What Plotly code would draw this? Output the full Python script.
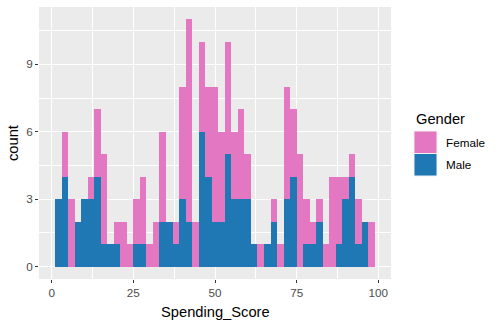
import plotly.graph_objects as go

# Histogram of Spending_Score, binwidth 2 starting at 1 (49 bins: 1-3, 3-5, ..., 97-99)
bin_start = 1
bin_width = 2
male_counts = [3, 4, 0, 2, 3, 3, 4, 1, 1, 1, 0, 0, 1, 1, 0, 0, 2, 2, 1, 3,
               2, 0, 6, 4, 2, 2, 5, 3, 3, 3, 1, 0, 1, 2, 0, 3, 4, 0, 1, 1,
               2, 0, 0, 1, 3, 4, 1, 2, 0]
female_counts = [0, 2, 3, 0, 0, 1, 3, 4, 0, 1, 2, 1, 2, 3, 1, 2, 4, 0, 1, 5,
                 9, 2, 4, 4, 6, 4, 5, 3, 4, 2, 0, 1, 0, 1, 1, 5, 3, 5, 2, 1,
                 1, 1, 4, 3, 1, 1, 2, 0, 2]
groups = ["Female", "Male"]
group_colors = {"Female": "#E377C2", "Male": "#1F77B4"}
x_ticks = [0, 25, 50, 75, 100]
y_ticks = [0, 3, 6, 9]

centers = [bin_start + bin_width * (i + 0.5) for i in range(len(male_counts))]

fig = go.Figure()
# Male stacked at the bottom, Female on top
fig.add_trace(go.Bar(x=centers, y=male_counts, width=bin_width, name="Male",
                     marker=dict(color=group_colors["Male"], line=dict(width=0)),
                     showlegend=False))
fig.add_trace(go.Bar(x=centers, y=female_counts, width=bin_width, name="Female",
                     marker=dict(color=group_colors["Female"], line=dict(width=0)),
                     showlegend=False))

# Panel geometry in pixels
W, H = 499, 326
L, R, T, B = 39, 391, 7, 279
pw, ph = R - L, B - T

def px_x(p):
    return (p - L) / pw

def px_y(p):
    return (B - p) / ph

totals = [m + f for m, f in zip(male_counts, female_counts)]
ymax = max(totals)
x_lo, x_hi = bin_start, bin_start + bin_width * len(male_counts)
xpad = 0.05 * (x_hi - x_lo)

tick_font = dict(family="Liberation Sans, Arial, sans-serif", size=11.7, color="#4D4D4D")

fig.update_layout(
    width=W, height=H,
    margin=dict(l=L, r=W - R, t=T, b=H - B),
    paper_bgcolor="white",
    plot_bgcolor="#EBEBEB",
    barmode="stack",
    bargap=0,
    xaxis=dict(
        range=[x_lo - xpad, x_hi + xpad],
        tickvals=x_ticks,
        ticks="outside", ticklen=3, tickwidth=1, tickcolor="#333333",
        tickfont=tick_font,
        showgrid=True, gridcolor="white", gridwidth=1.1,
        minor=dict(tickvals=[12.5, 37.5, 62.5, 87.5], showgrid=True,
                   gridcolor="white", gridwidth=0.55, ticks=""),
        zeroline=False, showline=False,
    ),
    yaxis=dict(
        range=[-0.05 * ymax, 1.05 * ymax],
        tickvals=y_ticks,
        ticks="outside", ticklen=3, tickwidth=1, tickcolor="#333333",
        tickfont=tick_font,
        showgrid=True, gridcolor="white", gridwidth=1.1,
        minor=dict(tickvals=[1.5, 4.5, 7.5, 10.5], showgrid=True,
                   gridcolor="white", gridwidth=0.55, ticks=""),
        zeroline=False, showline=False,
    ),
    font=dict(family="Liberation Sans, Arial, sans-serif"),
)

title_font = dict(family="Liberation Sans, Arial, sans-serif", size=14.7, color="black")

annotations = [
    dict(text="Spending_Score", x=0.5, y=px_y(312), xref="paper", yref="paper",
         showarrow=False, font=title_font, xanchor="center", yanchor="middle"),
    dict(text="count", x=px_x(13), y=px_y(143), xref="paper", yref="paper",
         showarrow=False, font=title_font, textangle=-90,
         xanchor="center", yanchor="middle"),
    dict(text="Gender", x=px_x(414), y=px_y(119), xref="paper", yref="paper",
         showarrow=False, font=title_font, xanchor="left", yanchor="middle"),
]

shapes = []
key_top = 131
key_h = 22.5
for i, g in enumerate(groups):
    y0 = key_top + i * key_h
    shapes.append(dict(type="rect", xref="paper", yref="paper",
                       x0=px_x(414), x1=px_x(437), y0=px_y(y0 + key_h), y1=px_y(y0),
                       fillcolor=group_colors[g], line=dict(color="#F2F2F2", width=1)))
    annotations.append(dict(text=g, x=px_x(444), y=px_y(y0 + key_h / 2),
                            xref="paper", yref="paper", showarrow=False,
                            font=dict(family="Liberation Sans, Arial, sans-serif",
                                      size=11.7, color="black"),
                            xanchor="left", yanchor="middle"))

fig.update_layout(annotations=annotations, shapes=shapes)

fig.write_html("out.html")
